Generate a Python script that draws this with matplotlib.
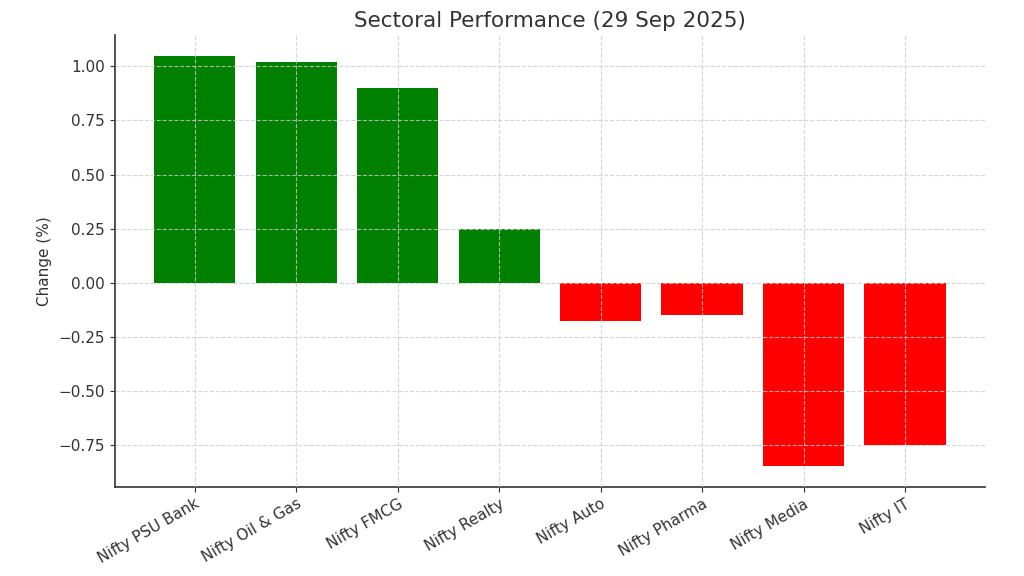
import matplotlib
matplotlib.use("Agg")
import matplotlib.pyplot as plt

sectors = ["Nifty PSU Bank", "Nifty Oil & Gas", "Nifty FMCG", "Nifty Realty",
           "Nifty Auto", "Nifty Pharma", "Nifty Media", "Nifty IT"]
changes = [1.05, 1.02, 0.90, 0.25, -0.18, -0.15, -0.85, -0.75]

colors = ["green" if v >= 0 else "red" for v in changes]
text_color = "#333333"

fig = plt.figure(figsize=(10.24, 5.76), dpi=100)
ax = fig.add_axes([0.112, 0.155, 0.850, 0.784])
ax.bar(sectors, changes, color=colors, width=0.8)
ax.set_title("Sectoral Performance (29 Sep 2025)", fontsize=15.5, color=text_color, pad=6)
ax.set_ylabel("Change (%)", fontsize=11, color=text_color, labelpad=5)
ax.set_yticks([-0.75, -0.5, -0.25, 0, 0.25, 0.5, 0.75, 1.0])
ax.tick_params(axis="both", labelsize=11, colors=text_color)
plt.setp(ax.get_xticklabels(), rotation=30, ha="right", rotation_mode="anchor")
ax.grid(True, linestyle="--", color="#cccccc", linewidth=0.8, alpha=0.8)
ax.set_axisbelow(False)
for s in ["top", "right"]:
    ax.spines[s].set_visible(False)
for s in ["left", "bottom"]:
    ax.spines[s].set_color("#333333")
    ax.spines[s].set_linewidth(1.2)

fig.savefig("out.png", dpi=100)
